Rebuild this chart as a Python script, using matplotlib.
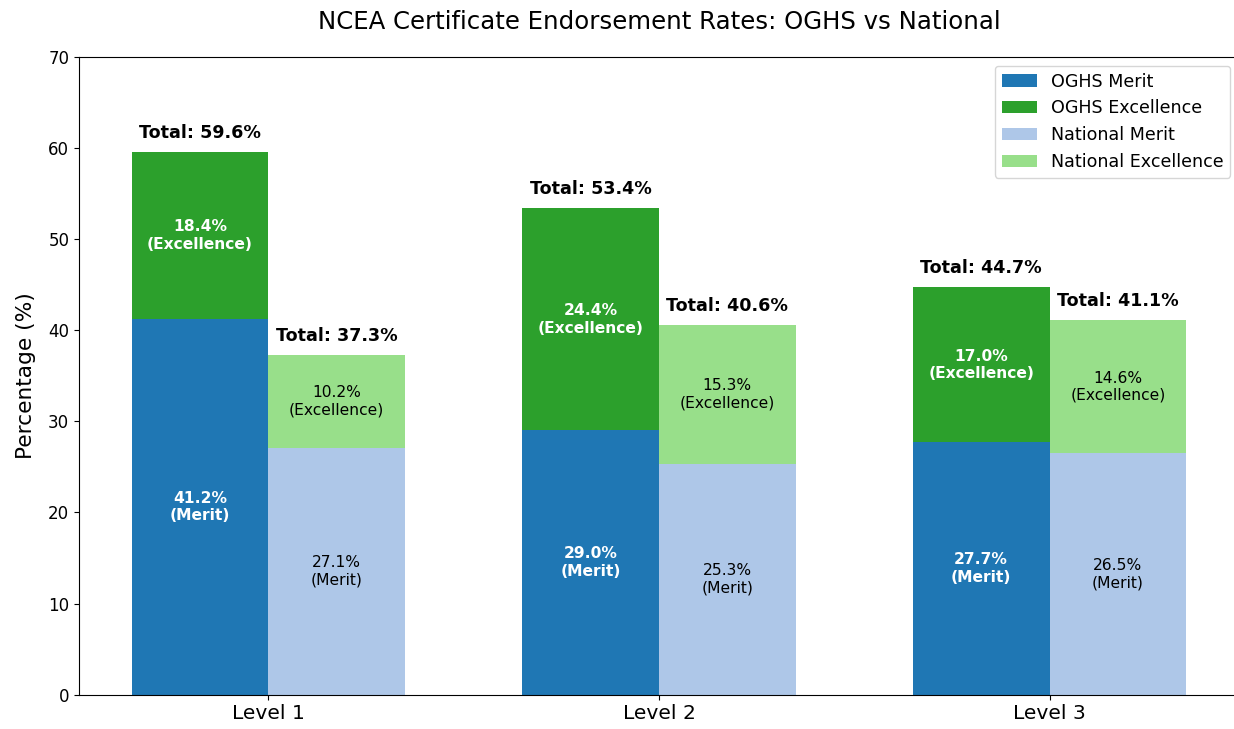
import matplotlib
matplotlib.use("Agg")
import matplotlib.pyplot as plt
import numpy as np

levels = ["Level 1", "Level 2", "Level 3"]
oghs_merit = [41.2, 29.0, 27.7]
oghs_exc = [18.4, 24.4, 17.0]
nat_merit = [27.1, 25.3, 26.5]
nat_exc = [10.2, 15.3, 14.6]

fig, ax = plt.subplots(figsize=(12.34, 7.29), dpi=100)
fig.subplots_adjust(left=0.064, right=1.004, top=0.922, bottom=0.047)

x = np.arange(len(levels))
w = 0.35
c_om, c_oe, c_nm, c_ne = "#1f77b4", "#2ca02c", "#aec7e8", "#98df8a"

ax.bar(x - w/2, oghs_merit, w, color=c_om, label="OGHS Merit")
ax.bar(x - w/2, oghs_exc, w, bottom=oghs_merit, color=c_oe, label="OGHS Excellence")
ax.bar(x + w/2, nat_merit, w, color=c_nm, label="National Merit")
ax.bar(x + w/2, nat_exc, w, bottom=nat_merit, color=c_ne, label="National Excellence")

for i in range(len(levels)):
    xo = x[i] - w/2
    xn = x[i] + w/2
    ax.text(xo, oghs_merit[i]/2, f"{oghs_merit[i]:.1f}%\n(Merit)", ha="center", va="center",
            color="white", fontweight="bold", fontsize=11.2)
    ax.text(xo, oghs_merit[i] + oghs_exc[i]/2, f"{oghs_exc[i]:.1f}%\n(Excellence)", ha="center", va="center",
            color="white", fontweight="bold", fontsize=11.2)
    ax.text(xn, nat_merit[i]/2, f"{nat_merit[i]:.1f}%\n(Merit)", ha="center", va="center",
            color="black", fontsize=11.2)
    ax.text(xn, nat_merit[i] + nat_exc[i]/2, f"{nat_exc[i]:.1f}%\n(Excellence)", ha="center", va="center",
            color="black", fontsize=11.2)
    to = oghs_merit[i] + oghs_exc[i]
    tn = nat_merit[i] + nat_exc[i]
    ax.text(xo, to + 1.1, f"Total: {to:.1f}%", ha="center", va="bottom", fontweight="bold", fontsize=12.6)
    ax.text(xn, tn + 1.1, f"Total: {tn:.1f}%", ha="center", va="bottom", fontweight="bold", fontsize=12.6)

ax.set_xticks(x)
ax.set_xticklabels(levels, fontsize=14.6)
ax.set_ylim(0, 70)
ax.set_ylabel("Percentage (%)", fontsize=15.6, labelpad=9)
ax.set_title("NCEA Certificate Endorsement Rates: OGHS vs National", fontsize=17.6, pad=20)
ax.tick_params(axis="y", labelsize=12)
ax.legend(loc="upper right", fontsize=12.6)

fig.savefig("out.png", dpi=100)
